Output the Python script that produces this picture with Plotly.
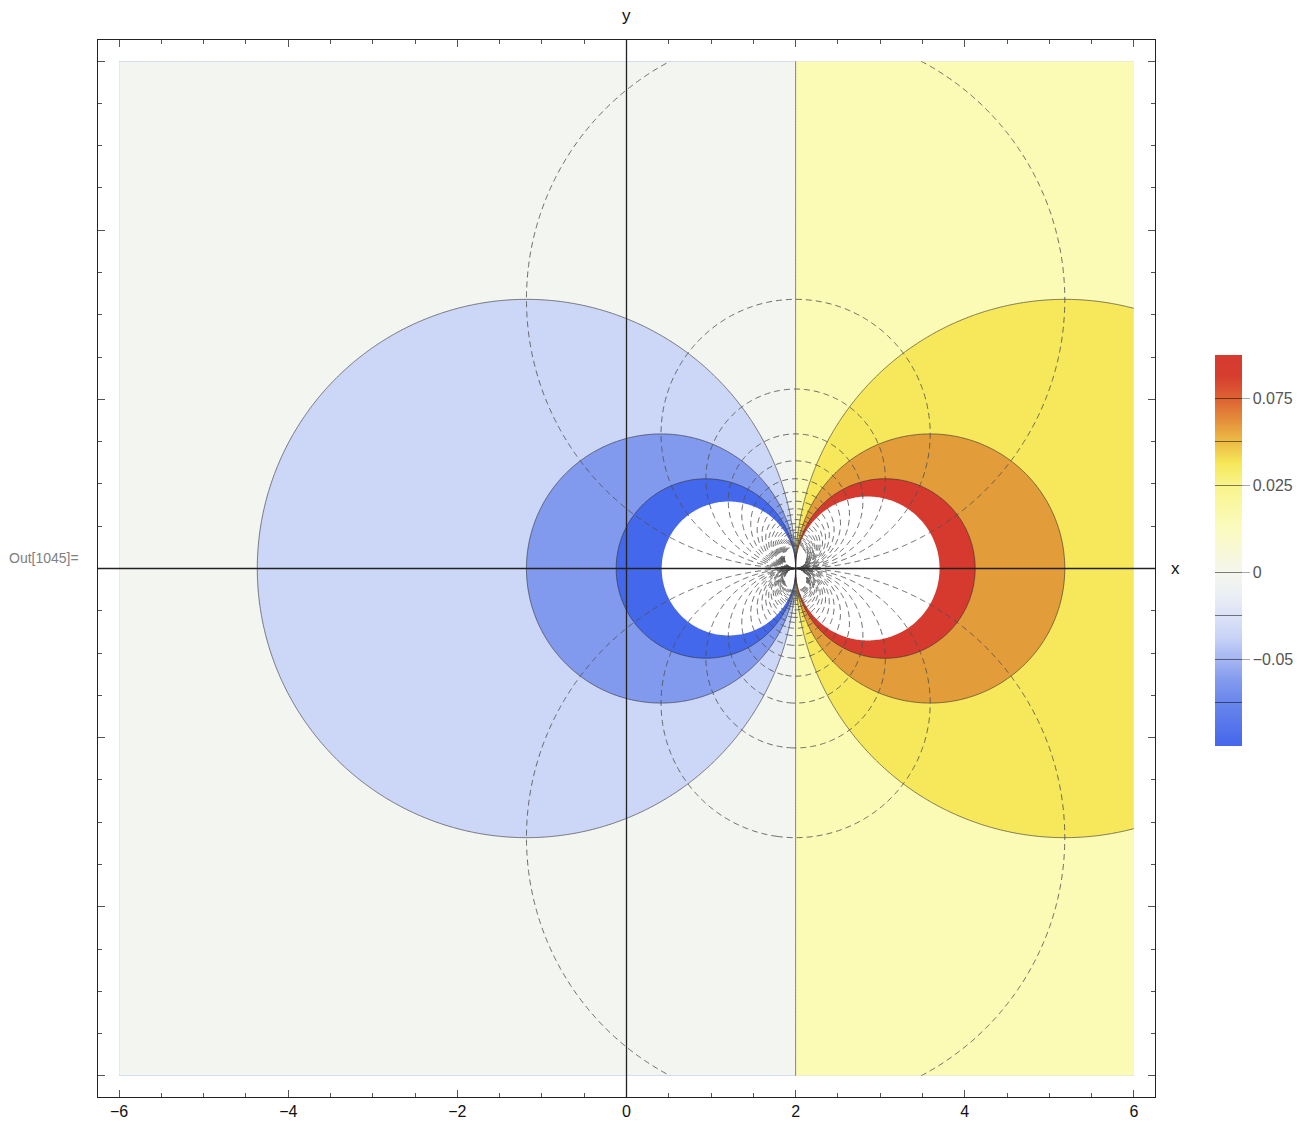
import numpy as np
import plotly.graph_objects as go

# ---- source: 2D line dipole at (2, 0), potential (x-x0)/(2*pi*r^2) ----
dipole_x = 2.0
dipole_y = 0.0
dipole_k = 1.0 / (2.0 * np.pi)

x_lim = [-6.0, 6.0]
y_lim = [-6.0, 6.0]
grid_n = 700

# potential band edges (outermost edges = plot-range clip, left white)
phi_levels = [-0.1005, -0.075, -0.05, -0.025, 0.0, 0.025, 0.05, 0.075, 0.0935]
band_colors = ["#ffffff", "#4468eb", "#819aee", "#ccd6f7", "#f3f5f1",
               "#fcfbb5", "#f6e85a", "#e39c3a", "#d63a2f", "#ffffff"]

# stream-function levels drawn as dashed field lines
psi_start, psi_end, psi_step = -0.6, 0.6, 0.025

# colour legend: values, their positions along the bar, gradient stops
legend_values = [-0.1, -0.075, -0.05, -0.025, 0.0, 0.025, 0.05, 0.075, 0.1]
legend_pos = [0, 1, 2, 3, 4, 6, 7, 8, 9]
legend_tick_values = [0.075, 0.025, 0.0, -0.05]
legend_tick_text = ["0.075", "0.025", "0", "\u22120.05"]
legend_stops_u = [0, 1, 1.5, 2, 2.5, 3, 3.5, 4, 5, 6, 6.5, 7, 7.5, 8, 8.5, 9]
legend_stops_rgb = [(68, 103, 235), (105, 134, 236), (130, 154, 238), (165, 182, 242),
                    (200, 211, 246), (220, 226, 246), (236, 239, 244), (245, 246, 236),
                    (251, 251, 192), (249, 244, 140), (246, 232, 88), (236, 188, 70),
                    (228, 142, 58), (221, 98, 52), (214, 62, 47), (214, 58, 47)]

# ---- fields on a grid ----
xs = np.linspace(x_lim[0], x_lim[1], grid_n)
ys = np.linspace(y_lim[0], y_lim[1], grid_n)
X, Y = np.meshgrid(xs, ys)
DX = X - dipole_x
DY = Y - dipole_y
R2 = DX ** 2 + DY ** 2
phi = dipole_k * DX / R2
psi = dipole_k * DY / R2

# map the potential onto band index space so every edge sits on an integer level;
# outside the first/last edge the neighbouring slope is continued
big = 1.0e3
lv = np.array(phi_levels)
idx = np.arange(len(phi_levels), dtype=float)
slope_lo = 1.0 / (lv[1] - lv[0])
slope_hi = 1.0 / (lv[-1] - lv[-2])
edge_x = np.concatenate([[-big], lv, [big]])
edge_i = np.concatenate([[idx[0] - (lv[0] + big) * slope_lo], idx,
                         [idx[-1] + (big - lv[-1]) * slope_hi]])
zband = np.interp(np.clip(phi, -big, big), edge_x, edge_i).astype(np.float32)
psi = np.clip(psi, -big, big).astype(np.float32)

n_lev = len(phi_levels)          # levels 0 .. n_lev-1
n_band = n_lev + 1
fill_scale = []
for k, col in enumerate(band_colors):
    lo = max(0.0, (k - 0.5) / (n_band - 1))
    hi = min(1.0, (k + 0.5) / (n_band - 1))
    fill_scale.append([lo, col])
    fill_scale.append([hi, col])

# ---- legend colour scale: smooth gradient with thin level lines ----
u_max = float(legend_pos[-1])
stops_arr = np.array(legend_stops_rgb, dtype=float)


def grad_at(u):
    return [float(np.interp(u, legend_stops_u, stops_arr[:, c])) for c in range(3)]


def rgb(c):
    return "rgb(%d,%d,%d)" % tuple(int(round(v)) for v in c)


half = 0.014
line_us = legend_pos[1:-1]
entries = []
for u in legend_stops_u:
    if all(abs(u - lu) > half for lu in line_us):
        entries.append((u, rgb(grad_at(u))))
for lu in line_us:
    base = grad_at(lu)
    dark = [v * 0.5 for v in base]
    entries += [(lu - half, rgb(base)), (lu - half, rgb(dark)),
                (lu + half, rgb(dark)), (lu + half, rgb(base))]
entries.sort(key=lambda e: e[0])
legend_scale = [[u / u_max, c] for u, c in entries]
legend_tickvals = [float(np.interp(v, legend_values, legend_pos)) for v in legend_tick_values]

fig = go.Figure()

# filled potential bands
fig.add_trace(go.Contour(
    x=xs, y=ys, z=zband,
    autocontour=False,
    contours=dict(start=0, end=n_lev - 1, size=1, coloring="fill", showlines=False),
    colorscale=fill_scale,
    line=dict(width=0),
    showscale=False,
    hoverinfo="skip",
))

# band boundaries (equipotentials)
fig.add_trace(go.Contour(
    x=xs, y=ys, z=zband,
    autocontour=False,
    contours=dict(start=1, end=n_lev - 2, size=1, coloring="none"),
    line=dict(color="rgba(45,45,45,0.75)", width=0.8),
    showscale=False,
    hoverinfo="skip",
))

# dashed field lines
fig.add_trace(go.Contour(
    x=xs, y=ys, z=psi,
    autocontour=False,
    contours=dict(start=psi_start, end=psi_end, size=psi_step, coloring="none"),
    line=dict(color="rgba(80,80,80,0.85)", width=1, dash="6px,4px"),
    showscale=False,
    hoverinfo="skip",
))

# colour legend
fig.add_trace(go.Scatter(
    x=[None], y=[None], mode="markers",
    marker=dict(
        color=[0.0], cmin=0, cmax=u_max, colorscale=legend_scale, showscale=True,
        colorbar=dict(
            x=(1215 - 98) / 1057, xanchor="left", xpad=0, ypad=0,
            y=(1097 - 550.5) / 1057, yanchor="middle",
            thickness=27, thicknessmode="pixels",
            len=391, lenmode="pixels",
            outlinewidth=0,
            tickmode="array", tickvals=legend_tickvals, ticktext=legend_tick_text,
            ticks="outside", ticklen=8, tickcolor="#aaaaaa", tickwidth=1,
            tickfont=dict(family="Liberation Sans, Arial, sans-serif", size=16, color="#555555"),
        ),
    ),
    hoverinfo="skip", showlegend=False,
))

# coordinate axes through the origin
fig.add_hline(y=0, line=dict(color="#222222", width=1.3), layer="above")
fig.add_vline(x=0, line=dict(color="#222222", width=1.3), layer="above")

axis_common = dict(
    range=[-6.25, 6.25], showgrid=False, zeroline=False, automargin=False,
    showline=True, linecolor="#222222", linewidth=1, mirror="ticks",
    ticks="inside", ticklen=7, tickwidth=1, tickcolor="#555555",
    tick0=0, dtick=2,
    minor=dict(ticks="inside", ticklen=4, tickwidth=1, tickcolor="#555555", dtick=0.5, showgrid=False),
    tickfont=dict(family="Liberation Sans, Arial, sans-serif", size=16, color="#111111"),
)

fig.update_layout(
    width=1311, height=1122,
    margin=dict(l=98, r=156, t=40, b=25, autoexpand=False),
    paper_bgcolor="white", plot_bgcolor="white",
    showlegend=False,
    xaxis=dict(**axis_common),
    yaxis=dict(**axis_common, showticklabels=False),
    annotations=[
        dict(text="y", xref="x", x=0, yref="paper", y=(1097 - 16) / 1057,
             showarrow=False, xanchor="center", yanchor="middle",
             font=dict(family="Liberation Sans, Arial, sans-serif", size=17, color="#111111")),
        dict(text="x", xref="paper", x=(1175 - 98) / 1057, yref="y", y=0,
             showarrow=False, xanchor="center", yanchor="middle",
             font=dict(family="Liberation Sans, Arial, sans-serif", size=17, color="#111111")),
        dict(text="Out[1045]=", xref="paper", x=(7 - 98) / 1057, yref="paper", y=(1097 - 558) / 1057,
             showarrow=False, xanchor="left", yanchor="middle",
             font=dict(family="Liberation Sans, Arial, sans-serif", size=14, color="#808080")),
    ],
)

fig.write_html("out.html")
